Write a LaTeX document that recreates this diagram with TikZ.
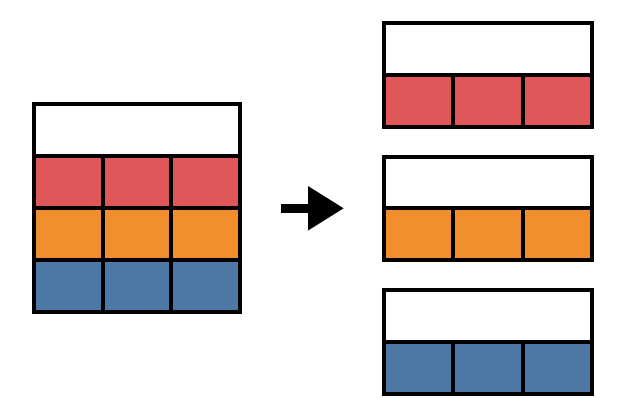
\documentclass[tikz,border=0pt]{standalone}
\usetikzlibrary{arrows.meta}
\definecolor{cred}{HTML}{E15759}
\definecolor{corange}{HTML}{F28E2B}
\definecolor{cblue}{HTML}{4E79A7}
\tikzset{
  cellbox/.style={draw=black, line width=4pt, rectangle, inner sep=0pt, outer sep=0pt, anchor=north west},
  bigarrow/.style={line width=8.5pt, -{Triangle[length=36pt,width=42pt]}}
}
\begin{document}
\begin{tikzpicture}[x=1pt,y=-1pt]
\useasboundingbox (0,0) rectangle (626,418);
% left table
\node[cellbox, fill=white, minimum width=206pt, minimum height=52pt] (Lh) at (34,104) {};
\foreach \r/\c/\y in {1/cred/156,2/corange/208,3/cblue/260}{
  \foreach \k/\x in {1/34,2/102.67,3/171.33}{
    \node[cellbox, fill=\c, minimum width=68.67pt, minimum height=52pt] (L\r c\k) at (\x,\y) {};
  }
}
% right tables
\foreach \t/\c/\y/\h in {1/cred/23.3/52,2/corange/157/51.3,3/cblue/290/51.5}{
  \node[cellbox, fill=white, minimum width=208pt, minimum height=\h pt] (R\t h) at (384,\y) {};
  \foreach \k/\x in {1/384,2/453.33,3/522.67}{
    \node[cellbox, fill=\c, minimum width=69.33pt, minimum height=52pt] (R\t c\k) at (\x,\y+\h) {};
  }
}
% arrow
\coordinate (As) at (281,208.3);
\coordinate (Ae) at (344,208.3);
\draw[bigarrow] (As) -- (Ae);
\end{tikzpicture}
\end{document}
